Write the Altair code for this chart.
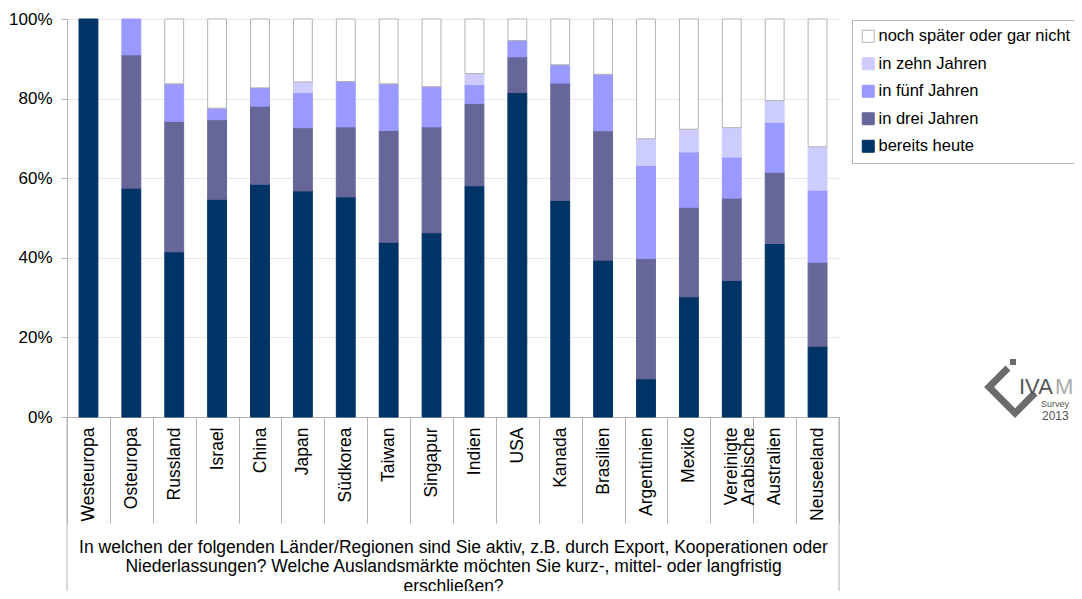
import altair as alt
import pandas as pd

categories = ["Westeuropa", "Osteuropa", "Russland", "Israel", "China", "Japan",
              "Südkorea", "Taiwan", "Singapur", "Indien", "USA", "Kanada",
              "Brasilien", "Argentinien", "Mexiko", "Vereinigte Arabische",
              "Australien", "Neuseeland"]

bereits_heute = [100.0, 57.5, 41.5, 54.7, 58.5, 56.8, 55.3, 43.9, 46.3, 58.1, 81.5, 54.4, 39.4, 9.6, 30.2, 34.3, 43.6, 17.8]
in_drei_jahren = [0.0, 33.5, 32.8, 20.0, 19.6, 15.9, 17.6, 28.1, 26.6, 20.7, 9.0, 29.5, 32.5, 30.2, 22.5, 20.7, 17.9, 21.1]
in_fuenf_jahren = [0.0, 9.0, 9.4, 2.9, 4.6, 8.8, 11.4, 11.7, 10.1, 4.7, 4.1, 4.6, 14.2, 23.4, 13.9, 10.3, 12.5, 18.1]
in_zehn_jahren = [0.0, 0.0, 0.0, 0.0, 0.0, 2.7, 0.0, 0.0, 0.0, 2.8, 0.0, 0.0, 0.0, 6.7, 5.7, 7.4, 5.5, 10.9]
noch_spaeter = [0.0, 0.0, 16.3, 22.4, 17.3, 15.8, 15.7, 16.3, 17.0, 13.7, 5.4, 11.5, 13.9, 30.1, 27.7, 27.3, 20.5, 32.1]

series_names = ["bereits heute", "in drei Jahren", "in fünf Jahren",
                "in zehn Jahren", "noch später oder gar nicht"]
fill_colors = ["#003366", "#666699", "#9999ff", "#ccccff", "#ffffff"]
stroke_colors = ["#003366", "#666699", "#9999ff", "#ccccff", "#b3b3b3"]

y_ticks = [0, 20, 40, 60, 80, 100]
x_title = ["In welchen der folgenden Länder/Regionen sind Sie aktiv, z.B. durch Export, Kooperationen oder",
           "Niederlassungen? Welche Auslandsmärkte möchten Sie kurz-, mittel- oder langfristig",
           "erschließen?"]

series_values = [bereits_heute, in_drei_jahren, in_fuenf_jahren, in_zehn_jahren, noch_spaeter]
rows = []
for i, c in enumerate(categories):
    for k, (name, vals) in enumerate(zip(series_names, series_values)):
        rows.append({"cat": c, "series": name, "value": vals[i], "ord": k})
df = pd.DataFrame(rows)

FONT = "Liberation Sans"
GRAY = "#b3b3b3"
W, H = 772, 398

legend_domain = series_names[::-1]
leg = alt.Legend(title=None, orient="none", legendX=785, legendY=1,
                 fillColor="white", strokeColor=GRAY, padding=8,
                 labelFont=FONT, labelFontSize=16.5, labelColor="#000",
                 symbolType="square", symbolSize=144, symbolStrokeWidth=1,
                 rowPadding=10.5, labelOffset=2, labelLimit=0)

bars = alt.Chart(df).transform_filter("datum.value > 0").mark_bar(
    width=alt.RelativeBandSize(0.44), strokeWidth=1
).encode(
    x=alt.X("cat:N", sort=categories,
            scale=alt.Scale(paddingInner=0, paddingOuter=0),
            axis=alt.Axis(title=x_title, labelAngle=-90, labelFont=FONT,
                          labelFontSize=17.5, labelColor="#000", labelPadding=-96,
                          labelExpr="indexof(datum.label, ' ') > 0 ? split(datum.label, ' ') : datum.label",
                          labelLineHeight=17, labelOverlap=False,
                          tickBand="extent", ticks=True, tickSize=106,
                          tickColor=GRAY, domainColor=GRAY, grid=False,
                          titleFont=FONT, titleFontSize=17.5, titleFontWeight="normal",
                          titleColor="#000", titleLineHeight=19.5,
                          titleX=W / 2, titleY=135, titleAlign="center",
                          titleBaseline="alphabetic", titleAngle=0)),
    y=alt.Y("value:Q", stack="zero",
            scale=alt.Scale(domain=[0, 100], nice=False),
            axis=alt.Axis(values=y_ticks, labelExpr="datum.value + '%'", title=None,
                          tickSize=6, tickColor=GRAY, domainColor=GRAY,
                          grid=True, gridColor="#e8e8e8", labelFont=FONT,
                          labelFontSize=17, labelColor="#000", labelPadding=9)),
    fill=alt.Fill("series:N", scale=alt.Scale(domain=legend_domain, range=fill_colors[::-1]), legend=leg),
    stroke=alt.Stroke("series:N", scale=alt.Scale(domain=legend_domain, range=stroke_colors[::-1]), legend=leg),
    order=alt.Order("ord:Q", sort="ascending"),
)

one = pd.DataFrame({"k": [0]})

border_left = alt.Chart(one).mark_rule(color=GRAY).encode(
    x=alt.value(0), y=alt.value(H), y2=alt.value(H + 220))
border_right = alt.Chart(one).mark_rule(color=GRAY).encode(
    x=alt.value(W), y=alt.value(H), y2=alt.value(H + 220))

LX = -9  # logo shift so it stays inside the page
chev_path = "M0.09,-1.0 L-0.77,-0.14 L0.41,1.05 L1.32,0.14"
chevron = alt.Chart(one).mark_point(shape=chev_path, filled=False, size=1936,
                                    strokeWidth=7, color="#6b6b6b", opacity=1,
                                    strokeJoin="miter").encode(
    x=alt.value(948 + LX), y=alt.value(371))
dot = alt.Chart(one).mark_square(size=36, color="#6b6b6b", opacity=1).encode(
    x=alt.value(955 + LX), y=alt.value(343))
ivam = alt.Chart(one).mark_text(text="IVA", align="left", baseline="alphabetic",
                                font=FONT, fontSize=22, color="#555555").encode(
    x=alt.value(961 + LX), y=alt.value(375))
ivam_m = alt.Chart(one).mark_text(text="M", align="left", baseline="alphabetic",
                                  font=FONT, fontSize=22, color="#aaaaaa").encode(
    x=alt.value(997 + LX), y=alt.value(375))
survey = alt.Chart(one).mark_text(text="Survey", align="left", baseline="alphabetic",
                                  font=FONT, fontSize=9, color="#555555").encode(
    x=alt.value(983 + LX), y=alt.value(388))
year = alt.Chart(one).mark_text(text="2013", align="left", baseline="alphabetic",
                                font=FONT, fontSize=12, color="#555555").encode(
    x=alt.value(984 + LX), y=alt.value(401))

chart = alt.layer(bars, border_left, border_right, chevron, dot, ivam, ivam_m, survey, year).properties(
    width=W, height=H,
    autosize=alt.AutoSizeParams(type="none"),
    padding={"left": 59, "top": 11, "right": 235, "bottom": 174},
).configure_view(strokeWidth=0)

chart.save("out.html", embed_options={"renderer": "svg", "actions": False})
